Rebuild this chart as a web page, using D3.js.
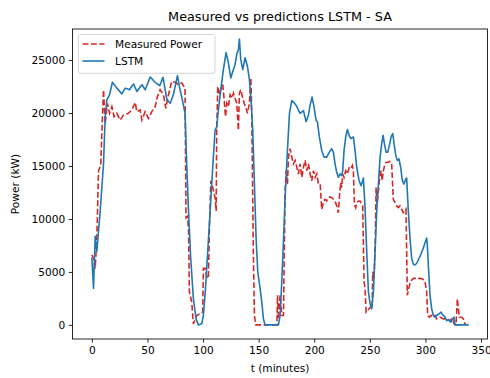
<!DOCTYPE html>
<html>
<head>
<meta charset="utf-8">
<script src="https://cdn.jsdelivr.net/npm/d3@7"></script>
<style>
  html, body { margin: 0; padding: 0; background: #fff; }
  svg { display: block; font-family: "DejaVu Sans", sans-serif; }
</style>
</head>
<body>
<svg id="chart" width="490" height="378"></svg>
<script>
const titleText = "Measured vs predictions LSTM - SA";
const xLabel = "t (minutes)";
const yLabel = "Power (kW)";
const seriesNames = ["Measured Power", "LSTM"];
const xTicks = [0, 50, 100, 150, 200, 250, 300, 350];
const yTicks = [0, 5000, 10000, 15000, 20000, 25000];

const measuredT = [0,1.5,3,4.5,6,8,9.3,10.5,12,14,15.9,18,20,22.5,25.4,28.4,32.9,36,39,40.4,43.4,45,47.9,50.9,53.9,56.9,59,61.4,64.4,66.5,68.9,71.9,74.9,77.8,80.8,83.8,84.7,86,87,87.7,89.8,91.3,94.3,97.3,99.7,100.3,101.9,103.3,104.8,105.8,107,108.7,110.8,111.8,112.3,113.2,114.7,115.9,117.7,119,120.2,121.4,122.8,124.3,126.1,127.3,128.8,130.3,131.8,132.7,133.9,135.7,137,138.7,139.9,141.7,143,143.8,145.3,146.2,147.4,166.4,167,167.8,169.3,170.8,172.3,173.8,174.7,175.9,176.8,178.3,179.8,181.3,182.8,184.3,185.8,187.3,188.8,190.3,191.8,193.3,194.8,196.3,197.8,199.3,200.8,202.3,203.8,205.3,206.7,208.2,209.7,211.2,212.7,214.2,215.7,217.2,218.7,220.2,221.7,222.6,223.8,224.7,225.6,226.8,228.3,229.8,231.3,232.8,234.3,235.2,236.1,237.3,238.2,239.7,241.2,242.7,243.6,244.8,245.7,246.6,247.8,249.3,250.8,252,252.6,253.8,255,255.6,256.5,257.7,259.2,260.1,261,262.2,263.7,265.2,266.7,268.1,269.6,271.1,272.6,274.1,275.6,277.1,278.6,280.1,281.6,282.5,283.7,284.9,286.1,287.6,289.1,290.6,292.1,293.6,295.1,297.5,299.6,301.1,302,303.5,305,306.5,308.6,310.1,313.1,316.1,319.1,322.1,324.5,325.7,327.5,328.7,329.6,330.5,332.6,334.1,335.9];
const measuredPower = [6600,6300,5340,8200,14560,15040,19000,22200,19000,20900,19970,20600,19650,19970,19330,19800,19970,20290,20990,20130,20290,19330,20130,19490,20130,20600,21560,22200,21720,20450,21720,23000,22900,22680,22840,22350,10100,10240,8840,3120,2160,100,890,1050,1210,5340,5340,4550,4390,9480,13610,12970,12020,10750,18380,22510,21720,22200,22680,21240,19650,20930,20610,21720,21400,21880,21400,20930,18380,21880,22200,21400,20930,20450,19970,20930,23310,19970,6300,890,0,0,2800,570,2800,890,890,12660,14560,13290,15840,16630,15840,15200,15520,14880,14250,15200,13930,14880,15520,14560,15200,14250,13610,14560,13930,14250,13290,13290,10910,11540,11860,11700,12020,12080,12020,11860,11700,11230,10590,12020,13450,12970,14250,13930,14560,14250,14820,14720,15040,14560,11380,11070,11540,11700,11700,11380,11230,4070,3430,1210,1370,1530,1690,1530,5020,4390,8520,12970,11380,12660,14250,14560,13610,14560,15260,15360,15360,15450,15260,11860,11540,11230,11070,11230,10910,10590,10750,10910,2800,3430,3910,4230,4390,4390,4450,4390,4390,4330,4070,3120,890,730,890,730,890,570,730,570,570,410,630,100,0,2480,1530,730,730,570,0];

const lstmT = [0,1.5,3,4.5,7.5,10.5,12,13.5,15.9,18.5,22.5,27,30,33.8,37.5,40.5,45,48,52.5,56.9,61,64,67.5,70.5,73.3,77,79,81.7,83.8,85.3,86.8,88.9,91.3,93.7,95.8,98.8,100.3,102,104,106.4,108.7,110.8,112.3,113.8,115.9,118.3,120.7,122.8,124.9,127.3,128.8,130.3,131.8,132.7,133.9,135.7,137.8,139.9,141.7,143.2,144.7,146.2,147.7,149.2,151.3,152.8,154.3,155.8,167.8,169.3,170.8,172.3,173.8,175.9,177.7,179.8,182.2,184.3,187.3,190.3,192.7,194.8,196.3,198,199.8,201.6,202.8,204.6,206.7,208.8,211.2,213.6,215.7,217.2,218.7,220.2,221.7,223.2,224.7,225.6,226.8,228.3,229.8,231.6,233.1,235.2,236.7,238.2,240.3,242.1,244.2,245.7,247.2,248.7,250.2,251.7,253.2,254.7,256.2,257.7,259.2,260.7,261.9,263.1,264.6,266.1,267.6,269.1,270.6,271.8,273.3,274.8,276.2,277.7,279.2,280.7,282.2,283.1,284.6,286.1,287.6,289.1,290.6,292.1,293.6,295.7,297.5,299.6,301.1,301.7,302.9,304.1,305.6,307.1,308.6,310.1,312.2,314,315.5,317.6,319.1,320.6,322.7,324.5,325.7,326.6,339];
const lstmPower = [6360,3430,8360,6930,10750,15200,19650,21240,21720,22900,22350,21800,22350,22190,22740,22040,22670,22190,23400,22900,22580,23370,21240,20920,21720,23530,22350,21080,19970,15200,11070,6300,2480,570,0,100,890,3120,6600,10750,14880,18380,18700,20290,22200,24100,25700,24740,23310,24100,24580,25540,26010,26970,25060,24100,25220,24420,23150,21080,18380,13300,8200,5020,3430,2160,570,0,0,890,4070,7890,12020,16470,19970,21180,20930,20610,19970,20230,19180,19820,20770,21500,20610,19330,19180,17740,16470,15840,15840,16310,16630,16310,15200,14400,13930,14250,14090,14560,16470,17740,18440,17800,17580,17740,16470,14880,13610,13140,13860,11070,6930,3120,2000,1530,3120,6930,10750,13290,15840,17110,17900,17110,16310,16310,16950,17740,18060,17110,16000,15520,15680,14880,13610,13290,13770,13860,10750,8200,6300,5720,5660,5820,6140,6600,7090,7730,8200,7570,5020,2800,1530,890,730,890,1050,1210,950,730,410,510,250,570,730,0,0];

const svg = d3.select("#chart");
const W = 490, H = 378;
const plot = { left: 72.5, right: 487.5, top: 29, bottom: 339 };

const x = d3.scaleLinear().domain([-17.4, 355.8]).range([plot.left, plot.right]);
const y = d3.scaleLinear().domain([-1330, 27930]).range([plot.bottom, plot.top]);

const txt = "#000";
const fs = 10.6;

// clip
svg.append("defs").append("clipPath").attr("id", "clip")
  .append("rect").attr("x", plot.left).attr("y", plot.top)
  .attr("width", plot.right - plot.left).attr("height", plot.bottom - plot.top);

// axes
const xAxis = d3.axisBottom(x).tickValues(xTicks).tickSize(3.7).tickPadding(3.5).tickFormat(d3.format("d"));
const yAxis = d3.axisLeft(y).tickValues(yTicks).tickSize(3.7).tickPadding(3.5).tickFormat(d3.format("d"));

const gx = svg.append("g").attr("transform", `translate(0,${plot.bottom})`).call(xAxis);
const gy = svg.append("g").attr("transform", `translate(${plot.left},0)`).call(yAxis);
[gx, gy].forEach(g => {
  g.select(".domain").remove();
  g.selectAll(".tick line").attr("stroke", txt).attr("stroke-width", 0.85);
  g.selectAll(".tick text").attr("fill", txt).style("font-size", fs + "px").style("font-family", "DejaVu Sans");
});

// lines
const lineOf = (ts, vs) => d3.line().x((d, i) => x(ts[i])).y((d, i) => y(vs[i]))(vs);

const plotG = svg.append("g").attr("clip-path", "url(#clip)");
plotG.append("path").attr("d", lineOf(measuredT, measuredPower))
  .attr("fill", "none").attr("stroke", "#d62728").attr("stroke-width", 1.6)
  .attr("stroke-dasharray", "5.9,2.55");
plotG.append("path").attr("d", lineOf(lstmT, lstmPower))
  .attr("fill", "none").attr("stroke", "#1f77b4").attr("stroke-width", 1.6)
  .attr("stroke-linejoin", "round");

// frame
svg.append("rect").attr("x", plot.left).attr("y", plot.top)
  .attr("width", plot.right - plot.left).attr("height", plot.bottom - plot.top)
  .attr("fill", "none").attr("stroke", txt).attr("stroke-width", 0.85);

// title & labels
svg.append("text").attr("x", (plot.left + plot.right) / 2).attr("y", 20.5)
  .attr("text-anchor", "middle").attr("fill", txt).style("font-size", "12.8px").text(titleText);
svg.append("text").attr("x", (plot.left + plot.right) / 2).attr("y", 372)
  .attr("text-anchor", "middle").attr("fill", txt).style("font-size", fs + "px").text(xLabel);
svg.append("text").attr("transform", `translate(19,${(plot.top + plot.bottom) / 2}) rotate(-90)`)
  .attr("text-anchor", "middle").attr("fill", txt).style("font-size", fs + "px").text(yLabel);

// legend
const lg = svg.append("g");
lg.append("rect").attr("x", 78.3).attr("y", 34.5).attr("width", 136.7).attr("height", 38.8)
  .attr("rx", 2.5).attr("fill", "#fff").attr("fill-opacity", 0.8)
  .attr("stroke", "#cccccc").attr("stroke-width", 0.85);
const legendColors = ["#d62728", "#1f77b4"];
const legendDash = ["5.9,2.55", null];
seriesNames.forEach((name, i) => {
  const cy = 44 + i * 17;
  lg.append("line").attr("x1", 82.5).attr("x2", 104.5).attr("y1", cy).attr("y2", cy)
    .attr("stroke", legendColors[i]).attr("stroke-width", 1.6)
    .attr("stroke-dasharray", legendDash[i]);
  lg.append("text").attr("x", 115).attr("y", cy).attr("dy", "0.35em")
    .attr("fill", txt).style("font-size", fs + "px").text(name);
});
</script>
</body>
</html>
